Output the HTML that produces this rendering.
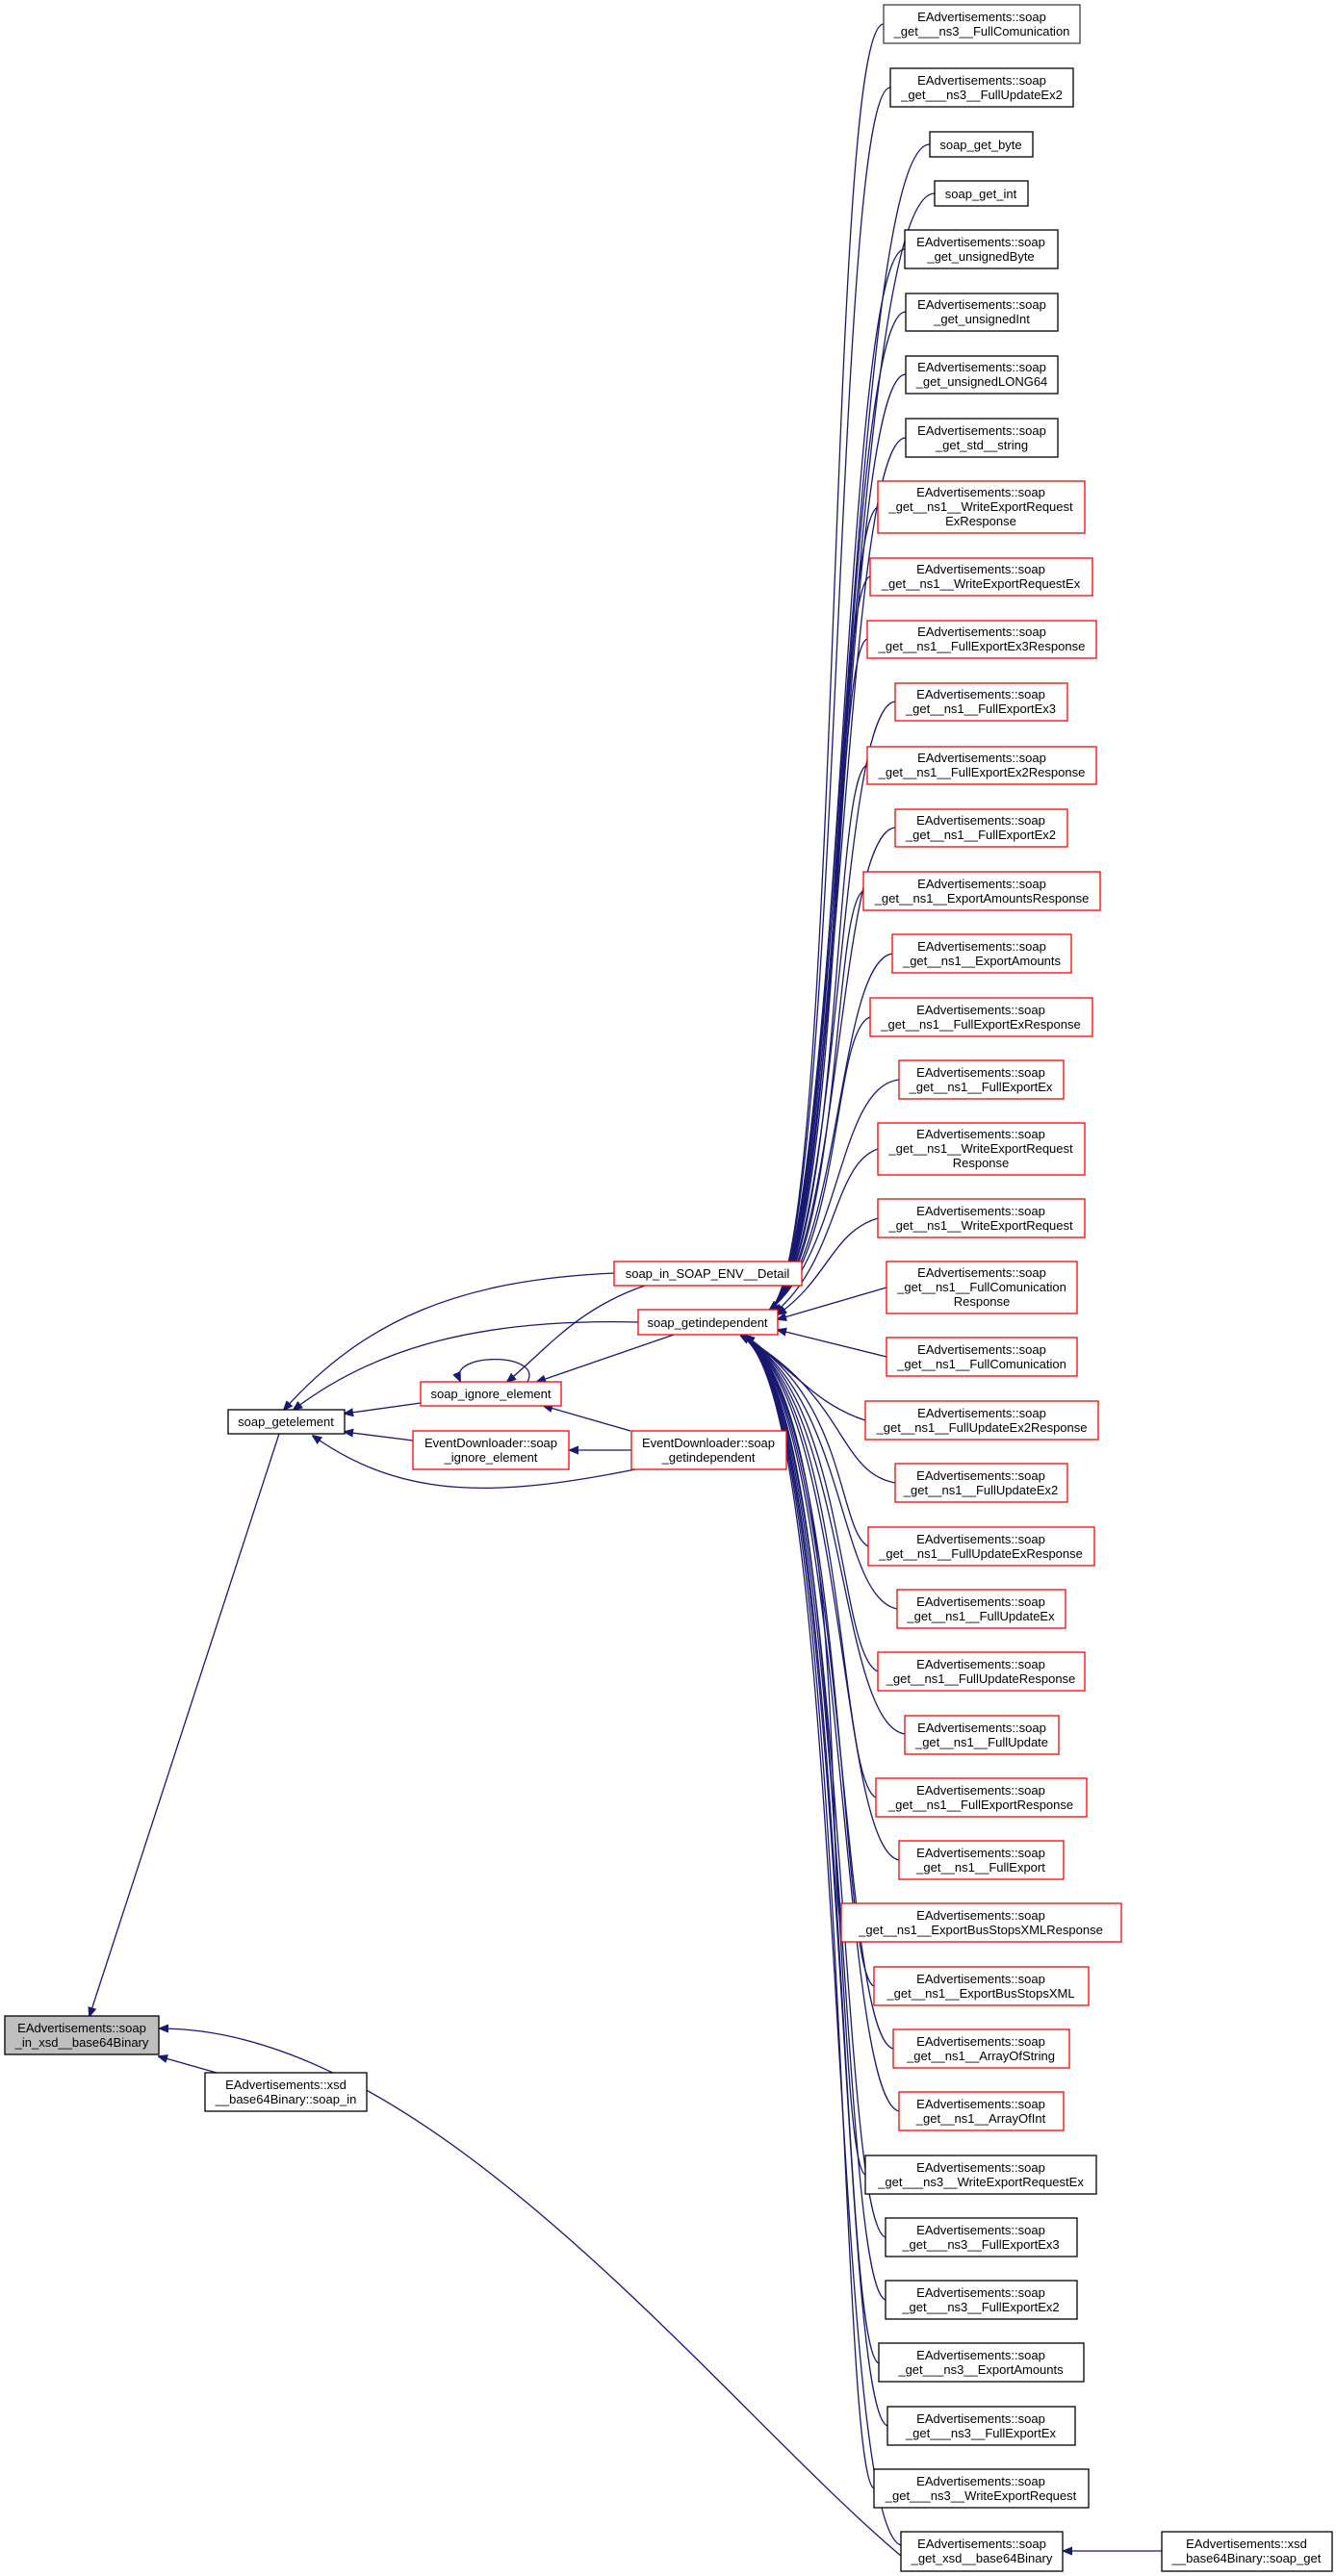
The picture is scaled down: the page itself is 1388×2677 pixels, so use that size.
<!DOCTYPE html>
<html><head><meta charset="utf-8"><style>
html,body{margin:0;padding:0;background:#fff;}
svg{display:block}
text{font-family:"Liberation Sans",sans-serif;font-size:13px;fill:#000}
.e{fill:none;stroke:#191970;stroke-width:1.3}
</style></head><body>
<svg width="1388" height="2677" viewBox="0 0 1388 2677" xmlns="http://www.w3.org/2000/svg">
<defs><marker id="a" viewBox="0 0 10 10" refX="9" refY="5" markerWidth="10" markerHeight="10" markerUnits="userSpaceOnUse" orient="auto"><path d="M0,1 L10,5 L0,9 z" fill="#191970" stroke="#191970"/></marker></defs>
<g class="e" marker-end="url(#a)">
<!-- edges into soap_getindependent from above -->
<path d="M918,25 C858,25 875,1300 800,1361"/>
<path d="M925,91 C865,91 875,1300 800,1361"/>
<path d="M966,150 C880,150 875,1300 800,1361"/>
<path d="M971,201 C880,201 875,1300 800,1361"/>
<path d="M940,259 C875,259 875,1300 800,1361"/>
<path d="M941,324 C875,324 875,1300 800,1361"/>
<path d="M941,389 C875,389 875,1300 800,1361"/>
<path d="M941,455 C875,455 875,1300 800,1361"/>
<path d="M912,527 C870,540 875,1300 800,1361"/>
<path d="M904,599 C865,610 875,1300 800,1361"/>
<path d="M901,664 C865,675 875,1300 800,1361"/>
<path d="M930,729 C870,735 875,1300 800,1361"/>
<path d="M901,795 C865,805 875,1300 800,1361"/>
<path d="M930,860 C870,865 875,1300 800,1361"/>
<path d="M897,926 C865,940 875,1300 800,1361"/>
<path d="M927,991 C870,1000 875,1300 800,1361"/>
<path d="M904,1057 C865,1070 875,1300 800,1361"/>
<path d="M934,1122 C870,1130 875,1300 800,1361"/>
<path d="M912,1194 C865,1210 870,1310 805,1364"/>
<path d="M912,1266 C865,1280 860,1330 808,1366"/>
<path d="M921,1338 L808,1371"/>
<path d="M921,1410 L808,1382"/>
<!-- edges into soap_getindependent from below -->
<path d="M899,1476 C850,1460 830,1430 775,1388"/>
<path d="M930,1541 C870,1530 880,1450 770,1388"/>
<path d="M902,1607 C870,1590 880,1450 770,1388"/>
<path d="M932,1672 C870,1660 880,1450 770,1388"/>
<path d="M912,1737 C870,1720 880,1450 770,1388"/>
<path d="M940,1802 C870,1790 880,1450 770,1388"/>
<path d="M910,1868 C870,1850 880,1450 770,1388"/>
<path d="M934,1933 C870,1920 880,1450 770,1388"/>
<path d="M874,1998 C860,1980 880,1450 770,1388"/>
<path d="M908,2064 C870,2050 880,1450 770,1388"/>
<path d="M928,2129 C870,2115 880,1450 770,1388"/>
<path d="M934,2194 C870,2180 880,1450 770,1388"/>
<path d="M899,2260 C865,2245 880,1450 770,1388"/>
<path d="M920,2325 C870,2310 880,1450 770,1388"/>
<path d="M920,2390 C870,2375 880,1450 770,1388"/>
<path d="M913,2456 C870,2440 880,1450 770,1388"/>
<path d="M922,2521 C870,2505 880,1450 770,1388"/>
<path d="M908,2586 C870,2570 880,1450 770,1388"/>
<path d="M936,2645 C860,2620 880,1450 770,1388"/>
<!-- left side -->
<path d="M638,1323 C480,1330 380,1370 295,1465"/>
<path d="M663,1374 C500,1370 390,1400 305,1465"/>
<path d="M437,1458 L358,1469"/>
<path d="M429,1497 L358,1488"/>
<path d="M660,1527 C520,1555 420,1560 325,1492"/>
<path d="M548,1436 C565,1405 465,1405 478,1435"/>
<path d="M670,1336 C600,1360 570,1400 527,1436"/>
<path d="M700,1387 L558,1436"/>
<path d="M655,1487 L565,1461"/>
<path d="M656,1507 L592,1507"/>
<path d="M290,1490 L93,2095"/>
<path d="M225,2154 L165,2137"/>
<path d="M936,2656 C750,2500 450,2108 166,2108"/>
<path d="M1207,2651 L1105,2651"/>
</g>
<g stroke-width="1.3">
<rect x="918" y="5" width="204" height="40" fill="#fff" stroke="#404040"/>
<text x="1020" y="22" text-anchor="middle">EAdvertisements::soap</text><text x="1020" y="37" text-anchor="middle">_get___ns3__FullComunication</text>
<rect x="925" y="71" width="190" height="40" fill="#fff" stroke="#000"/>
<text x="1020" y="88" text-anchor="middle">EAdvertisements::soap</text><text x="1020" y="103" text-anchor="middle">_get___ns3__FullUpdateEx2</text>
<rect x="966" y="137" width="107" height="26" fill="#fff" stroke="#000"/>
<text x="1019" y="155" text-anchor="middle">soap_get_byte</text>
<rect x="971" y="188" width="97" height="26" fill="#fff" stroke="#000"/>
<text x="1019" y="206" text-anchor="middle">soap_get_int</text>
<rect x="940" y="239" width="159" height="40" fill="#fff" stroke="#000"/>
<text x="1019" y="256" text-anchor="middle">EAdvertisements::soap</text><text x="1019" y="271" text-anchor="middle">_get_unsignedByte</text>
<rect x="941" y="305" width="158" height="39" fill="#fff" stroke="#000"/>
<text x="1020" y="321" text-anchor="middle">EAdvertisements::soap</text><text x="1020" y="336" text-anchor="middle">_get_unsignedInt</text>
<rect x="941" y="370" width="158" height="39" fill="#fff" stroke="#000"/>
<text x="1020" y="386" text-anchor="middle">EAdvertisements::soap</text><text x="1020" y="401" text-anchor="middle">_get_unsignedLONG64</text>
<rect x="941" y="435" width="158" height="40" fill="#fff" stroke="#000"/>
<text x="1020" y="452" text-anchor="middle">EAdvertisements::soap</text><text x="1020" y="467" text-anchor="middle">_get_std__string</text>
</g>
<g stroke-width="1.3" fill="#fff" stroke="#ff0000">
<rect x="912" y="500" width="215" height="54"/>
<rect x="904" y="580" width="231" height="39"/>
<rect x="901" y="645" width="238" height="39"/>
<rect x="930" y="710" width="179" height="39"/>
<rect x="901" y="776" width="238" height="39"/>
<rect x="930" y="841" width="179" height="39"/>
<rect x="897" y="906" width="246" height="40"/>
<rect x="927" y="971" width="186" height="40"/>
<rect x="904" y="1037" width="231" height="40"/>
<rect x="934" y="1102" width="171" height="40"/>
<rect x="912" y="1167" width="215" height="54"/>
<rect x="912" y="1246" width="215" height="40"/>
<rect x="921" y="1311" width="198" height="54"/>
<rect x="921" y="1390" width="198" height="40"/>
<rect x="899" y="1456" width="242" height="40"/>
<rect x="930" y="1521" width="179" height="40"/>
<rect x="902" y="1587" width="235" height="40"/>
<rect x="932" y="1652" width="175" height="40"/>
<rect x="912" y="1717" width="215" height="40"/>
<rect x="940" y="1783" width="160" height="40"/>
<rect x="910" y="1848" width="219" height="40"/>
<rect x="934" y="1913" width="171" height="40"/>
<rect x="874" y="1978" width="291" height="40"/>
<rect x="908" y="2044" width="223" height="40"/>
<rect x="928" y="2109" width="183" height="40"/>
<rect x="934" y="2174" width="171" height="40"/>
<rect x="638" y="1311" width="195" height="25"/>
<rect x="663" y="1361" width="145" height="26"/>
<rect x="437" y="1436" width="146" height="25"/>
<rect x="429" y="1487" width="162" height="40"/>
<rect x="656" y="1487" width="161" height="40"/>
</g>
<g text-anchor="middle">
<text x="1019" y="516">EAdvertisements::soap</text><text x="1019" y="531">_get__ns1__WriteExportRequest</text><text x="1019" y="546">ExResponse</text>
<text x="1019" y="596">EAdvertisements::soap</text><text x="1019" y="611">_get__ns1__WriteExportRequestEx</text>
<text x="1020" y="661">EAdvertisements::soap</text><text x="1020" y="676">_get__ns1__FullExportEx3Response</text>
<text x="1019" y="726">EAdvertisements::soap</text><text x="1019" y="741">_get__ns1__FullExportEx3</text>
<text x="1020" y="792">EAdvertisements::soap</text><text x="1020" y="807">_get__ns1__FullExportEx2Response</text>
<text x="1019" y="857">EAdvertisements::soap</text><text x="1019" y="872">_get__ns1__FullExportEx2</text>
<text x="1020" y="923">EAdvertisements::soap</text><text x="1020" y="938">_get__ns1__ExportAmountsResponse</text>
<text x="1020" y="988">EAdvertisements::soap</text><text x="1020" y="1003">_get__ns1__ExportAmounts</text>
<text x="1019" y="1054">EAdvertisements::soap</text><text x="1019" y="1069">_get__ns1__FullExportExResponse</text>
<text x="1019" y="1119">EAdvertisements::soap</text><text x="1019" y="1134">_get__ns1__FullExportEx</text>
<text x="1019" y="1183">EAdvertisements::soap</text><text x="1019" y="1198">_get__ns1__WriteExportRequest</text><text x="1019" y="1213">Response</text>
<text x="1019" y="1263">EAdvertisements::soap</text><text x="1019" y="1278">_get__ns1__WriteExportRequest</text>
<text x="1020" y="1327">EAdvertisements::soap</text><text x="1020" y="1342">_get__ns1__FullComunication</text><text x="1020" y="1357">Response</text>
<text x="1020" y="1407">EAdvertisements::soap</text><text x="1020" y="1422">_get__ns1__FullComunication</text>
<text x="1020" y="1473">EAdvertisements::soap</text><text x="1020" y="1488">_get__ns1__FullUpdateEx2Response</text>
<text x="1019" y="1538">EAdvertisements::soap</text><text x="1019" y="1553">_get__ns1__FullUpdateEx2</text>
<text x="1019" y="1604">EAdvertisements::soap</text><text x="1019" y="1619">_get__ns1__FullUpdateExResponse</text>
<text x="1019" y="1669">EAdvertisements::soap</text><text x="1019" y="1684">_get__ns1__FullUpdateEx</text>
<text x="1019" y="1734">EAdvertisements::soap</text><text x="1019" y="1749">_get__ns1__FullUpdateResponse</text>
<text x="1020" y="1800">EAdvertisements::soap</text><text x="1020" y="1815">_get__ns1__FullUpdate</text>
<text x="1019" y="1865">EAdvertisements::soap</text><text x="1019" y="1880">_get__ns1__FullExportResponse</text>
<text x="1019" y="1930">EAdvertisements::soap</text><text x="1019" y="1945">_get__ns1__FullExport</text>
<text x="1019" y="1995">EAdvertisements::soap</text><text x="1019" y="2010">_get__ns1__ExportBusStopsXMLResponse</text>
<text x="1019" y="2061">EAdvertisements::soap</text><text x="1019" y="2076">_get__ns1__ExportBusStopsXML</text>
<text x="1019" y="2126">EAdvertisements::soap</text><text x="1019" y="2141">_get__ns1__ArrayOfString</text>
<text x="1019" y="2191">EAdvertisements::soap</text><text x="1019" y="2206">_get__ns1__ArrayOfInt</text>
<text x="735" y="1328">soap_in_SOAP_ENV__Detail</text>
<text x="735" y="1379">soap_getindependent</text>
<text x="510" y="1453">soap_ignore_element</text>
<text x="510" y="1504">EventDownloader::soap</text><text x="510" y="1519">_ignore_element</text>
<text x="736" y="1504">EventDownloader::soap</text><text x="736" y="1519">_getindependent</text>
</g>
<g stroke-width="1.3" fill="#fff" stroke="#000">
<rect x="899" y="2240" width="240" height="40"/>
<rect x="920" y="2305" width="199" height="40"/>
<rect x="920" y="2370" width="199" height="40"/>
<rect x="913" y="2435" width="213" height="40"/>
<rect x="922" y="2501" width="195" height="40"/>
<rect x="908" y="2566" width="223" height="40"/>
<rect x="936" y="2631" width="168" height="41"/>
<rect x="1207" y="2631" width="177" height="41"/>
<rect x="237" y="1465" width="121" height="25"/>
<rect x="5" y="2095" width="160" height="40" fill="#bfbfbf"/>
<rect x="213" y="2154" width="168" height="40"/>
</g>
<g text-anchor="middle">
<text x="1019" y="2257">EAdvertisements::soap</text><text x="1019" y="2272">_get___ns3__WriteExportRequestEx</text>
<text x="1019" y="2322">EAdvertisements::soap</text><text x="1019" y="2337">_get___ns3__FullExportEx3</text>
<text x="1019" y="2387">EAdvertisements::soap</text><text x="1019" y="2402">_get___ns3__FullExportEx2</text>
<text x="1019" y="2452">EAdvertisements::soap</text><text x="1019" y="2467">_get___ns3__ExportAmounts</text>
<text x="1019" y="2518">EAdvertisements::soap</text><text x="1019" y="2533">_get___ns3__FullExportEx</text>
<text x="1019" y="2583">EAdvertisements::soap</text><text x="1019" y="2598">_get___ns3__WriteExportRequest</text>
<text x="1020" y="2648">EAdvertisements::soap</text><text x="1020" y="2663">_get_xsd__base64Binary</text>
<text x="1295" y="2648">EAdvertisements::xsd</text><text x="1295" y="2663">__base64Binary::soap_get</text>
<text x="297" y="1482">soap_getelement</text>
<text x="85" y="2112">EAdvertisements::soap</text><text x="85" y="2127">_in_xsd__base64Binary</text>
<text x="297" y="2171">EAdvertisements::xsd</text><text x="297" y="2186">__base64Binary::soap_in</text>
</g>
</svg>
</body></html>
